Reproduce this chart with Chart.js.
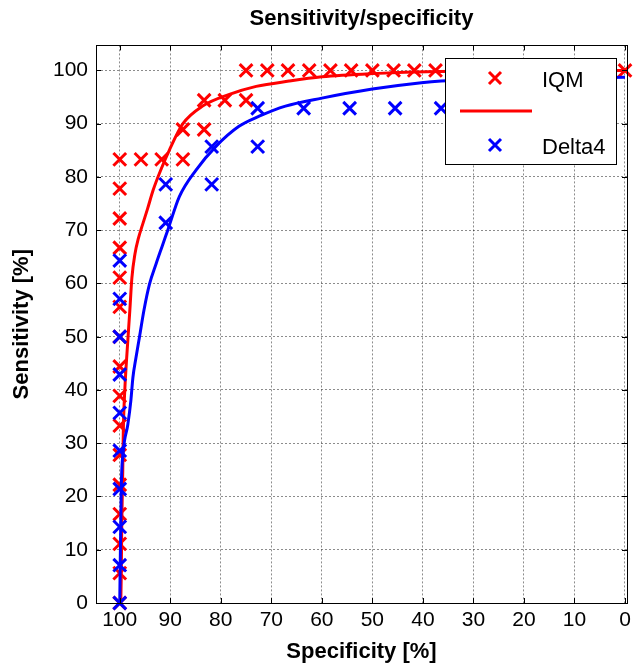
<!DOCTYPE html>
<html>
<head>
<meta charset="utf-8">
<title>Sensitivity/specificity</title>
<script src="https://cdn.jsdelivr.net/npm/chart.js@4.4.1/dist/chart.umd.min.js"></script>
<style>
  html, body { margin: 0; padding: 0; background: #fff; }
  canvas { display: block; }
</style>
</head>
<body>
<canvas id="roc" width="639" height="665"></canvas>
<script>
// measured points (specificity %, sensitivity %)
const iqmSpec = [100, 100, 100, 100, 100, 100, 100, 100, 100, 100, 100, 100, 100, 100, 100, 100,
  95.8, 91.7, 87.5, 87.5, 83.3, 83.3, 79.2, 75,
  75, 70.8, 66.7, 62.5, 58.3, 54.2, 50, 45.8, 41.7, 37.5, 33.3, 29.2, 25, 20.8, 16.7, 12.5, 8.3, 4.2, 0];
const iqmSens = [0, 5.6, 11.1, 16.7, 22.2, 27.8, 33.3, 38.9, 44.4, 50, 55.6, 61.1, 66.7, 72.2, 77.8, 83.3,
  83.3, 83.3, 83.3, 88.9, 88.9, 94.4, 94.4, 94.4,
  100, 100, 100, 100, 100, 100, 100, 100, 100, 100, 100, 100, 100, 100, 100, 100, 100, 100, 100];

const delta4Spec = [100, 100, 100, 100, 100, 100, 100, 100, 100, 100,
  90.9, 90.9, 81.8, 81.8, 72.7, 72.7, 63.6, 54.5, 45.5, 36.4, 27.3, 18.2, 9.1];
const delta4Sens = [0, 7.1, 14.3, 21.4, 28.6, 35.7, 42.9, 50, 57.1, 64.3,
  71.4, 78.6, 78.6, 85.7, 85.7, 92.9, 92.9, 92.9, 92.9, 92.9, 92.9, 92.9, 92.9];

// fitted curves
const iqmFitSpec = [99.8, 99.7, 99.6, 99.4, 99.3, 99.0, 98.7, 98.0, 97.6, 97.0, 96.3, 95.5, 94.5, 93.4, 91.8, 90.2, 87.5, 83.6, 78.3, 73.0, 66.5, 60, 50, 37, 20, 0];
const iqmFitSens = [0, 5, 15, 25, 32, 40, 45, 55, 61, 65.5, 68.5, 71, 74, 77.5, 81.5, 85, 90, 93.3, 95.5, 97, 98, 98.8, 99.4, 99.8, 99.9, 100];

const delta4FitSpec = [100, 99.7, 99.3, 98.4, 97.8, 97.4, 96.8, 96.1, 95.2, 94.1, 92.8, 91.6, 90.5, 88.2, 84.9, 81, 76.4, 72.4, 67.2, 60, 50, 40.3, 36.4, 20, 0];
const delta4FitSens = [0, 21.6, 28.5, 33.5, 38, 42.3, 46, 49.9, 55, 59.9, 63.7, 67, 70, 76.3, 81.3, 85.7, 89.5, 91.4, 93.3, 94.8, 96.5, 97.7, 98, 98.4, 98.7];

const xTickValues = [100, 90, 80, 70, 60, 50, 40, 30, 20, 10, 0];
const yTickValues = [0, 10, 20, 30, 40, 50, 60, 70, 80, 90, 100];

const legendLabels = ["IQM", "", "Delta4"];

const FONT = "'Liberation Sans', Arial, Helvetica, sans-serif";
const RED = "#ff0000";
const BLUE = "#0000ff";

const pts = (xs, ys) => xs.map((v, i) => ({ x: v, y: ys[i] }));

function drawX(ctx, cx, cy, half, color) {
  ctx.strokeStyle = color;
  ctx.lineWidth = 3;
  ctx.beginPath();
  ctx.moveTo(cx - half, cy - half); ctx.lineTo(cx + half, cy + half);
  ctx.moveTo(cx - half, cy + half); ctx.lineTo(cx + half, cy - half);
  ctx.stroke();
}

// box, inner ticks and the legend drawn inside the plot like matlab does
const matlabFrame = {
  id: "matlabFrame",
  afterDatasetsDraw(chart) {
    const { ctx, chartArea: a, scales: { x, y } } = chart;
    ctx.save();
    ctx.strokeStyle = "#000";
    ctx.lineWidth = 1;
    ctx.strokeRect(Math.round(a.left) + 0.5, Math.round(a.top) + 0.5,
      Math.round(a.right - a.left), Math.round(a.bottom - a.top));
    ctx.beginPath();
    x.ticks.forEach(t => {
      const px = Math.round(x.getPixelForValue(t.value)) + 0.5;
      ctx.moveTo(px, a.bottom); ctx.lineTo(px, a.bottom - 5);
      ctx.moveTo(px, a.top); ctx.lineTo(px, a.top + 5);
    });
    y.ticks.forEach(t => {
      const py = Math.round(y.getPixelForValue(t.value)) + 0.5;
      ctx.moveTo(a.left, py); ctx.lineTo(a.left + 5, py);
      ctx.moveTo(a.right, py); ctx.lineTo(a.right - 5, py);
    });
    ctx.stroke();

    // legend
    const lx = Math.round(a.right) - 182, ly = Math.round(a.top) + 13;
    const lw = 171, lh = 106;
    ctx.fillStyle = "#fff";
    ctx.fillRect(lx, ly, lw, lh);
    ctx.strokeStyle = "#000";
    ctx.lineWidth = 1;
    ctx.strokeRect(lx + 0.5, ly + 0.5, lw, lh);

    drawX(ctx, lx + 50, ly + 20, 6, RED);
    ctx.strokeStyle = RED;
    ctx.lineWidth = 3;
    ctx.beginPath();
    ctx.moveTo(lx + 15, ly + 53); ctx.lineTo(lx + 87, ly + 53);
    ctx.stroke();
    drawX(ctx, lx + 50, ly + 87, 6, BLUE);

    ctx.fillStyle = "#000";
    ctx.font = "22px " + FONT;
    ctx.textBaseline = "middle";
    ctx.textAlign = "left";
    ctx.fillText(legendLabels[0], lx + 97, ly + 23);
    ctx.fillText(legendLabels[1], lx + 97, ly + 56);
    ctx.fillText(legendLabels[2], lx + 97, ly + 90);
    ctx.restore();
  }
};

const gridOpts = { color: "rgba(0,0,0,0.45)", lineWidth: 1, drawTicks: false };

new Chart(document.getElementById("roc"), {
  type: "scatter",
  data: {
    datasets: [
      {
        label: "Delta4 fit",
        data: pts(delta4FitSpec, delta4FitSens),
        showLine: true,
        borderColor: BLUE,
        borderWidth: 3,
        pointRadius: 0,
        cubicInterpolationMode: "monotone",
        order: 1
      },
      {
        label: "Delta4",
        data: pts(delta4Spec, delta4Sens),
        pointStyle: "crossRot",
        pointRadius: 9,
        pointBorderWidth: 3,
        borderColor: BLUE,
        backgroundColor: BLUE,
        clip: false,
        order: 2
      },
      {
        label: "IQM fit",
        data: pts(iqmFitSpec, iqmFitSens),
        showLine: true,
        borderColor: RED,
        borderWidth: 3,
        pointRadius: 0,
        cubicInterpolationMode: "monotone",
        order: 3
      },
      {
        label: "IQM",
        data: pts(iqmSpec, iqmSens),
        pointStyle: "crossRot",
        pointRadius: 9,
        pointBorderWidth: 3,
        borderColor: RED,
        backgroundColor: RED,
        clip: false,
        order: 4
      }
    ]
  },
  options: {
    responsive: false,
    devicePixelRatio: 1,
    animation: false,
    layout: { padding: { left: 0, right: 9, top: 0, bottom: 0 } },
    plugins: {
      legend: { display: false },
      tooltip: { enabled: false },
      title: {
        display: true,
        fullSize: false,
        text: "Sensitivity/specificity",
        color: "#000",
        font: { family: FONT, size: 22, weight: "bold" },
        padding: { top: 6, bottom: 13 }
      }
    },
    scales: {
      x: {
        type: "linear",
        reverse: true,
        min: -0.4,
        max: 104.7,
        afterBuildTicks: s => { s.ticks = xTickValues.map(v => ({ value: v })); },
        afterFit: s => { s.height = 62; },
        grid: gridOpts,
        border: { display: true, color: "#000", width: 1, dash: [2, 2] },
        ticks: { color: "#000", font: { family: FONT, size: 21 }, padding: 5, maxRotation: 0 },
        title: {
          display: true,
          text: "Specificity [%]",
          color: "#000",
          font: { family: FONT, size: 22, weight: "bold" },
          padding: { top: 0, bottom: 0 }
        }
      },
      y: {
        type: "linear",
        min: 0,
        max: 104.7,
        afterBuildTicks: s => { s.ticks = yTickValues.map(v => ({ value: v })); },
        afterFit: s => { s.width = 96; },
        grid: gridOpts,
        border: { display: true, color: "#000", width: 1, dash: [2, 2] },
        ticks: { color: "#000", font: { family: FONT, size: 21 }, padding: 8 },
        title: {
          display: true,
          text: "Sensitivity [%]",
          color: "#000",
          font: { family: FONT, size: 22, weight: "bold" },
          padding: { top: 9, bottom: 0 }
        }
      }
    }
  },
  plugins: [matlabFrame]
});
</script>
</body>
</html>
